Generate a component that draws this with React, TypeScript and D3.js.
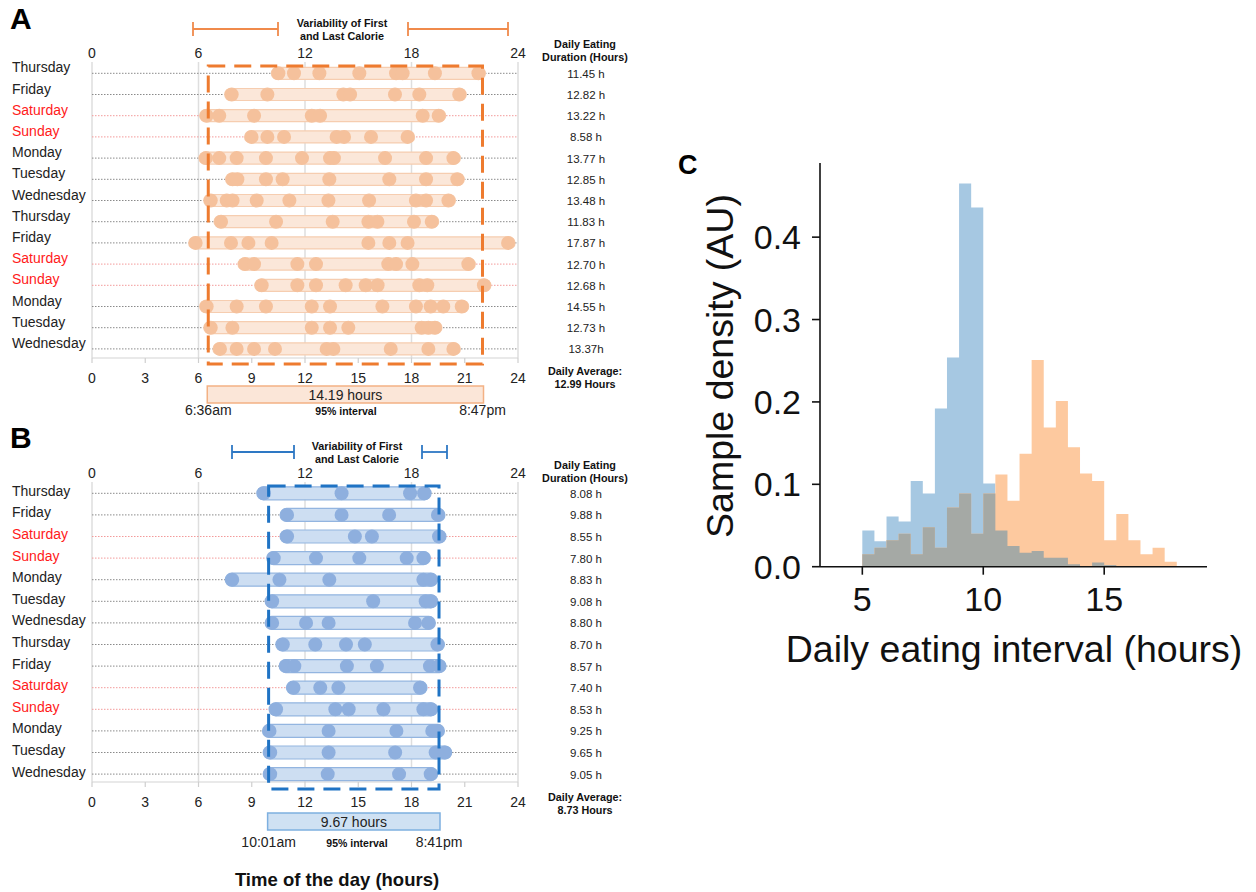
import React from "react";
import * as d3 from "d3";

// ---------- Data ----------
const DAYS = ["Thursday", "Friday", "Saturday", "Sunday", "Monday", "Tuesday", "Wednesday", "Thursday", "Friday", "Saturday", "Sunday", "Monday", "Tuesday", "Wednesday"];

// Panel A: eating events (hour of day) per day
const MEALS_A: number[][] = [
  [10.5, 11.38, 12.81, 15.06, 17.13, 17.5, 19.32, 21.77],
  [7.87, 9.88, 14.16, 14.54, 17.07, 18.44, 20.69],
  [6.46, 7.17, 9.13, 12.38, 12.85, 18.63, 19.53],
  [8.99, 9.88, 10.82, 13.78, 14.2, 15.72, 17.78],
  [6.42, 7.17, 8.15, 9.8, 11.83, 13.41, 13.63, 16.51, 18.82, 20.36],
  [7.92, 8.19, 9.8, 10.74, 13.37, 16.75, 18.82, 20.58],
  [6.69, 7.59, 7.92, 9.28, 11.12, 13.32, 15.61, 18.25, 18.82, 20.08],
  [7.27, 10.37, 13.56, 15.57, 16.08, 18.14, 19.14],
  [5.84, 7.83, 8.81, 10.12, 15.57, 16.75, 17.78, 23.44],
  [8.62, 9.13, 11.57, 12.62, 16.69, 17.13, 18.05, 21.2],
  [9.56, 11.57, 12.62, 14.29, 15.42, 16.09, 18.44, 18.89, 22.08],
  [6.46, 8.15, 9.8, 12.38, 13.41, 16.36, 18.25, 19.08, 19.79, 20.83],
  [6.69, 7.91, 12.38, 13.41, 14.44, 18.57, 18.95, 19.32],
  [7.21, 8.15, 9.13, 10.31, 13.22, 13.6, 16.83, 18.95, 20.36],
];
const DURATIONS_A = ["11.45 h", "12.82 h", "13.22 h", "8.58 h", "13.77 h", "12.85 h", "13.48 h", "11.83 h", "17.87 h", "12.70 h", "12.68 h", "14.55 h", "12.73 h", "13.37h"];

// Panel B
const MEALS_B: number[][] = [
  [9.68, 14.06, 17.92, 18.71],
  [10.99, 14.06, 16.74, 19.49],
  [10.99, 14.81, 15.77, 19.55],
  [10.24, 12.62, 15.06, 17.73, 18.67],
  [7.9, 10.56, 13.37, 18.67, 19.08],
  [10.15, 15.84, 18.8, 19.08],
  [10.15, 12.06, 13.33, 18.2, 18.95],
  [10.75, 12.58, 14.31, 15.37, 19.46],
  [10.94, 11.4, 14.36, 16.05, 19.04, 19.55],
  [11.35, 12.86, 13.88, 18.48],
  [10.37, 13.71, 14.46, 16.42, 18.67, 19.08],
  [10.0, 13.33, 17.15, 19.17, 19.46],
  [10.04, 13.33, 17.08, 19.36, 19.87],
  [10.04, 13.28, 17.3, 19.08],
];
const DURATIONS_B = ["8.08 h", "9.88 h", "8.55 h", "7.80 h", "8.83 h", "9.08 h", "8.80 h", "8.70 h", "8.57 h", "7.40 h", "8.53 h", "9.25 h", "9.65 h", "9.05 h"];

const TOP_TICKS = [0, 6, 12, 18, 24];
const BOTTOM_TICKS = [0, 3, 6, 9, 12, 15, 18, 21, 24];

// Panel C histograms (density per 0.5 h bin starting at 5.0 h)
const BIN_EDGES = [5, 5.5, 6, 6.5, 7, 7.5, 8, 8.5, 9, 9.5, 10, 10.5, 11, 11.5, 12, 12.5, 13, 13.5, 14, 14.5, 15, 15.5, 16, 16.5, 17, 17.5, 18];
const HIST_BLUE = [0.044, 0.031, 0.061, 0.055, 0.104, 0.089, 0.192, 0.254, 0.465, 0.436, 0.101, 0.044, 0.025, 0.017, 0.019, 0.011, 0.011, 0.003, 0.0, 0.005, 0.002, 0, 0, 0, 0, 0];
const HIST_ORANGE = [0.015, 0.023, 0.032, 0.04, 0.015, 0.048, 0.023, 0.072, 0.089, 0.04, 0.089, 0.112, 0.08, 0.137, 0.251, 0.169, 0.201, 0.145, 0.113, 0.104, 0.032, 0.064, 0.032, 0.015, 0.023, 0.006];
const C_XTICKS = [5, 10, 15];
const C_YTICKS = [0, 0.1, 0.2, 0.3, 0.4];

const FONT = "'Liberation Sans', Arial, Helvetica, sans-serif";

type PanelCfg = {
  letter: string;
  letterY: number;
  meals: number[][];
  durations: string[];
  row0: number;
  rowStep: number;
  labelDy: number;
  gridTop: number;
  axisY: number;
  topLabelY: number;
  bottomLabelY: number;
  box: [number, number];
  boxTop: number;
  boxBottom: number;
  bracketY: number;
  bracketL: [number, number];
  bracketR: [number, number];
  varTextX: number;
  varTextY: number;
  headY: number;
  avgY: number;
  avgText: string;
  rectY: number;
  rectH: number;
  rectText: string;
  startText: string;
  endText: string;
  timeY: number;
  intervalX: number;
  pillH: number;
  dot: string;
  pillFill: string;
  pillStroke: string;
  dash: string;
  bracket: string;
  rectFill: string;
  rectStroke: string;
};

const PANEL_A: PanelCfg = {
  letter: "A", letterY: 29,
  meals: MEALS_A, durations: DURATIONS_A,
  row0: 73.3, rowStep: 21.2, labelDy: -1,
  gridTop: 62, axisY: 358, topLabelY: 58, bottomLabelY: 383,
  box: [6.55, 22.0], boxTop: 66, boxBottom: 364,
  bracketY: 29, bracketL: [193, 278], bracketR: [408, 508],
  varTextX: 342, varTextY: 27, headY: 48,
  avgY: 375, avgText: "12.99 Hours",
  rectY: 386, rectH: 17, rectText: "14.19 hours",
  startText: "6:36am", endText: "8:47pm", timeY: 415, intervalX: 346,
  pillH: 12,
  dot: "#f5c19c", pillFill: "#fbe7d9", pillStroke: "#f6cdb0",
  dash: "#ee7b2f", bracket: "#f08a4b", rectFill: "#fbe6d8", rectStroke: "#f3b184",
};

const PANEL_B: PanelCfg = {
  letter: "B", letterY: 448,
  meals: MEALS_B, durations: DURATIONS_B,
  row0: 493.3, rowStep: 21.6, labelDy: 2.5,
  gridTop: 482, axisY: 782, topLabelY: 478, bottomLabelY: 807,
  box: [9.95, 19.55], boxTop: 486, boxBottom: 789,
  bracketY: 452, bracketL: [232, 294], bracketR: [422, 447],
  varTextX: 357, varTextY: 450, headY: 469,
  avgY: 801, avgText: "8.73 Hours",
  rectY: 813, rectH: 17, rectText: "9.67 hours",
  startText: "10:01am", endText: "8:41pm", timeY: 847, intervalX: 357,
  pillH: 13,
  dot: "#8eafde", pillFill: "#cddef2", pillStroke: "#93b5e0",
  dash: "#1f73c4", bracket: "#2e78c4", rectFill: "#cfe1f3", rectStroke: "#7eb0e0",
};

function Panel({ c }: { c: PanelCfg }) {
  const x = d3.scaleLinear().domain([0, 24]).range([92, 518]);
  const y = (i: number) => c.row0 + i * c.rowStep;
  const r = 7;
  const [bl, br] = c.box;
  return (
    <g fontFamily={FONT}>
      <text x={10} y={c.letterY} fontSize={30} fontWeight="bold" fill="#000">{c.letter}</text>
      {/* brackets */}
      {[c.bracketL, c.bracketR].map((b, i) => (
        <g key={i} stroke={c.bracket} strokeWidth={1.8}>
          <line x1={b[0]} x2={b[1]} y1={c.bracketY} y2={c.bracketY} />
          <line x1={b[0]} x2={b[0]} y1={c.bracketY - 7} y2={c.bracketY + 7} />
          <line x1={b[1]} x2={b[1]} y1={c.bracketY - 7} y2={c.bracketY + 7} />
        </g>
      ))}
      <text x={c.varTextX} y={c.varTextY} fontSize={10.8} fontWeight="bold" textAnchor="middle" fill="#111">Variability of First</text>
      <text x={c.varTextX} y={c.varTextY + 13} fontSize={10.8} fontWeight="bold" textAnchor="middle" fill="#111">and Last Calorie</text>
      {/* header right */}
      <text x={585} y={c.headY} fontSize={10.8} fontWeight="bold" textAnchor="middle" fill="#111">Daily Eating</text>
      <text x={585} y={c.headY + 13} fontSize={10.8} fontWeight="bold" textAnchor="middle" fill="#111">Duration (Hours)</text>
      {/* top tick labels */}
      {TOP_TICKS.map((t) => (
        <text key={t} x={x(t)} y={c.topLabelY} fontSize={14} textAnchor="middle" fill="#222">{t}</text>
      ))}
      {/* grid */}
      {TOP_TICKS.map((t) => (
        <line key={t} x1={x(t)} x2={x(t)} y1={c.gridTop} y2={c.axisY} stroke="#dedede" strokeWidth={1.5} />
      ))}
      <line x1={x(0)} x2={x(24)} y1={c.axisY} y2={c.axisY} stroke="#d4d4d4" strokeWidth={1.2} />
      {BOTTOM_TICKS.map((t) => (
        <line key={t} x1={x(t)} x2={x(t)} y1={c.axisY} y2={c.axisY + 5} stroke="#cfcfcf" strokeWidth={1.2} />
      ))}
      {BOTTOM_TICKS.map((t) => (
        <text key={t} x={x(t)} y={c.bottomLabelY} fontSize={14} textAnchor="middle" fill="#222">{t}</text>
      ))}
      {/* rows */}
      {DAYS.map((d, i) => {
        const weekend = d === "Saturday" || d === "Sunday";
        return (
          <g key={i}>
            <text x={12} y={y(i) + c.labelDy} fontSize={14} fill={weekend ? "#ff1a1a" : "#222"}>{d}</text>
            <line x1={x(0)} x2={x(24)} y1={y(i)} y2={y(i)} stroke={weekend ? "#f39a9a" : "#8a8a8a"} strokeWidth={1} strokeDasharray="1.5 1.5" />
            <text x={586} y={y(i) + 4.5} fontSize={11.5} textAnchor="middle" fill="#222">{c.durations[i]}</text>
          </g>
        );
      })}
      {c.meals.map((m, i) => {
        const lo = d3.min(m) as number;
        const hi = d3.max(m) as number;
        return (
          <rect key={i} x={x(lo) - r} y={y(i) - c.pillH / 2} width={x(hi) - x(lo) + 2 * r} height={c.pillH} rx={c.pillH / 2}
            fill={c.pillFill} stroke={c.pillStroke} strokeWidth={1.2} />
        );
      })}
      {c.meals.map((m, i) => m.map((v, j) => (
        <circle key={i + "-" + j} cx={x(v)} cy={y(i)} r={r} fill={c.dot} />
      )))}
      {/* dashed box */}
      <rect x={x(bl)} y={c.boxTop} width={x(br) - x(bl)} height={c.boxBottom - c.boxTop} fill="none"
        stroke={c.dash} strokeWidth={3} strokeDasharray="17 9" />
      {/* daily average */}
      <text x={585} y={c.avgY} fontSize={10.8} fontWeight="bold" textAnchor="middle" fill="#111">Daily Average:</text>
      <text x={585} y={c.avgY + 13} fontSize={10.8} fontWeight="bold" textAnchor="middle" fill="#111">{c.avgText}</text>
      {/* interval rect */}
      <rect x={x(bl) - 1} y={c.rectY} width={x(br) - x(bl) + 2} height={c.rectH} fill={c.rectFill} stroke={c.rectStroke} strokeWidth={1.5} />
      <text x={(x(bl) + x(br)) / 2} y={c.rectY + 13.5} fontSize={14} textAnchor="middle" fill="#222">{c.rectText}</text>
      <text x={x(bl)} y={c.timeY} fontSize={14} textAnchor="middle" fill="#222">{c.startText}</text>
      <text x={x(br)} y={c.timeY} fontSize={14} textAnchor="middle" fill="#222">{c.endText}</text>
      <text x={c.intervalX} y={c.timeY} fontSize={10.5} fontWeight="bold" textAnchor="middle" fill="#111">95% interval</text>
    </g>
  );
}

function PanelC() {
  const x = d3.scaleLinear().domain([3.25, 19.25]).range([820, 1207]);
  const y = d3.scaleLinear().domain([0, 0.49]).range([566.7, 163]);
  const mk = (vals: number[]) => {
    const pts: [number, number][] = vals.map((v, i) => [BIN_EDGES[i], v]);
    pts.push([BIN_EDGES[BIN_EDGES.length - 1], vals[vals.length - 1]]);
    return d3.area<[number, number]>().x((d) => x(d[0])).y0(y(0)).y1((d) => y(d[1])).curve(d3.curveStepAfter)(pts) || "";
  };
  const minVals = HIST_BLUE.map((b, i) => Math.min(b, HIST_ORANGE[i]));
  return (
    <g fontFamily={FONT}>
      <text x={678} y={174} fontSize={27} fontWeight="bold" fill="#000">C</text>
      <path d={mk(HIST_BLUE)} fill="#a6c8e2" />
      <path d={mk(HIST_ORANGE)} fill="#fdc99f" />
      <path d={mk(minVals)} fill="#a5a9a5" />
      <line x1={820} x2={1207} y1={y(0)} y2={y(0)} stroke="#111" strokeWidth={1.6} />
      <line x1={820} x2={820} y1={163} y2={y(0)} stroke="#111" strokeWidth={1.6} />
      {C_XTICKS.map((t) => (
        <g key={t}>
          <line x1={x(t)} x2={x(t)} y1={y(0)} y2={y(0) + 8} stroke="#111" strokeWidth={1.6} />
          <text x={x(t)} y={y(0) + 44} fontSize={34} textAnchor="middle" fill="#111">{t}</text>
        </g>
      ))}
      {C_YTICKS.map((t) => (
        <g key={t}>
          <line x1={812} x2={820} y1={y(t)} y2={y(t)} stroke="#111" strokeWidth={1.6} />
          <text x={801} y={y(t) + 12} fontSize={34} textAnchor="end" fill="#111">{t.toFixed(1)}</text>
        </g>
      ))}
      <text transform={`translate(733,366) rotate(-90)`} fontSize={37.5} textAnchor="middle" fill="#111">Sample density (AU)</text>
      <text x={1014} y={662} fontSize={37.5} textAnchor="middle" fill="#111">Daily eating interval (hours)</text>
    </g>
  );
}

export default function App() {
  return (
    <svg width={1256} height={892} style={{ position: "absolute", left: 0, top: 0, background: "#fff" }}>
      <rect width={1256} height={892} fill="#fff" />
      <Panel c={PANEL_A} />
      <Panel c={PANEL_B} />
      <PanelC />
      <text x={337} y={886} fontSize={18.5} fontWeight="bold" textAnchor="middle" fill="#111" fontFamily={FONT}>Time of the day (hours)</text>
    </svg>
  );
}
